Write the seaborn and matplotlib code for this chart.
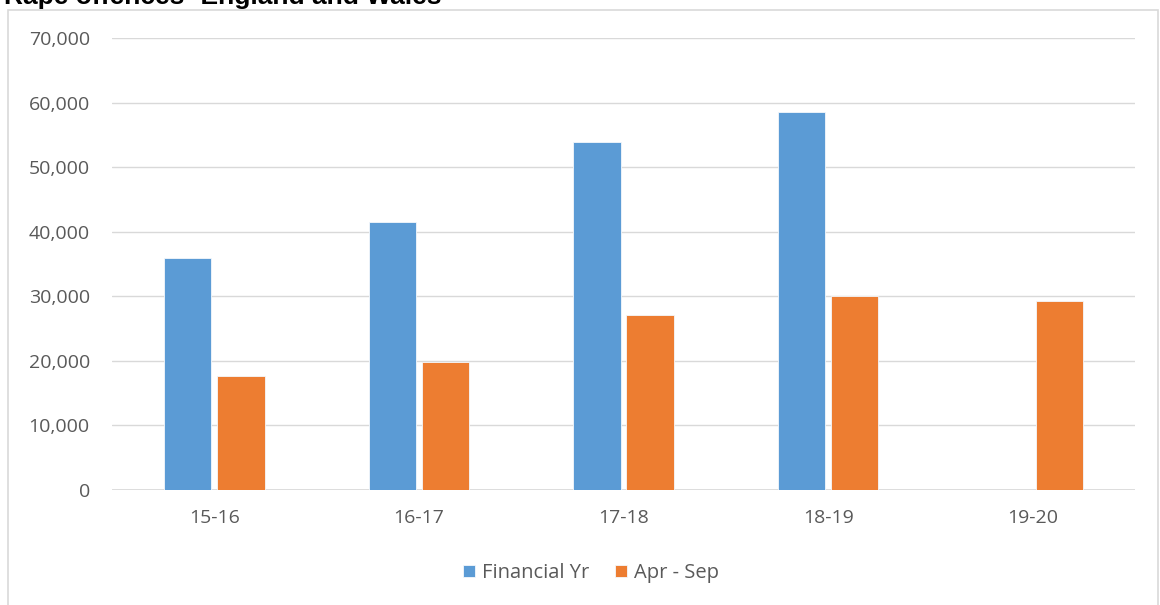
import seaborn as sns
import matplotlib.pyplot as plt
import pandas as pd
import numpy as np
from matplotlib.patches import Rectangle

# values
years = ["15-16", "16-17", "17-18", "18-19", "19-20"]
financial_yr = [35900, 41500, 53900, 58500, np.nan]
apr_sep = [17700, 19800, 27150, 30000, 29300]

df = pd.DataFrame({
    "year": years * 2,
    "value": financial_yr + apr_sep,
    "series": ["Financial Yr"] * 5 + ["Apr - Sep"] * 5,
})

sns.set_theme(style="white")
plt.rcParams["font.family"] = ["Open Sans", "DejaVu Sans"]

fig = plt.figure(figsize=(11.6, 6.05), dpi=100)
ax = fig.add_axes([112 / 1160, 1 - 490 / 605, (1135 - 112) / 1160, (490 - 38) / 605])

sns.barplot(data=df, x="year", y="value", hue="series",
            palette=["#5B9BD5", "#ED7D31"], saturation=1,
            width=0.52, gap=0.11,
            edgecolor="#F4F8FC", linewidth=0.6, ax=ax, legend=True)

ax.set_ylim(0, 70000)
ax.set_yticks(range(0, 70001, 10000))
ax.set_yticklabels([f"{v:,}" for v in range(0, 70001, 10000)])
ax.set_xlabel("")
ax.set_ylabel("")
ax.yaxis.grid(True, color="#D9D9D9", linewidth=1)
ax.set_axisbelow(True)
for s in ax.spines.values():
    s.set_visible(False)
ax.axhline(0, color="#D9D9D9", linewidth=1.2, zorder=0)
ax.tick_params(axis="both", length=0, labelsize=14, labelcolor="#595959")
ax.tick_params(axis="y", pad=16)
ax.tick_params(axis="x", pad=14)

ax.legend(loc="center", bbox_to_anchor=(591 / 1160, 1 - 573 / 605),
          bbox_transform=fig.transFigure, ncol=2, frameon=False,
          fontsize=14.5, handlelength=0.6, handleheight=0.6,
          columnspacing=1.3, handletextpad=0.35,
          labelcolor="#595959")

# chart border
fig.patches.append(Rectangle((8 / 1160, -0.02), 1150 / 1160, 1 - 10 / 605 + 0.02,
                             transform=fig.transFigure, fill=False,
                             edgecolor="#D9D9D9", linewidth=1.2))

# title, cut off at the top like the source
fig.text(4 / 1160, 1 - 4 / 605, "Rape offences- England and Wales",
         fontsize=19, fontweight="bold", color="black",
         family=["Liberation Sans", "DejaVu Sans"], va="baseline")

fig.savefig("out.png", dpi=100)
